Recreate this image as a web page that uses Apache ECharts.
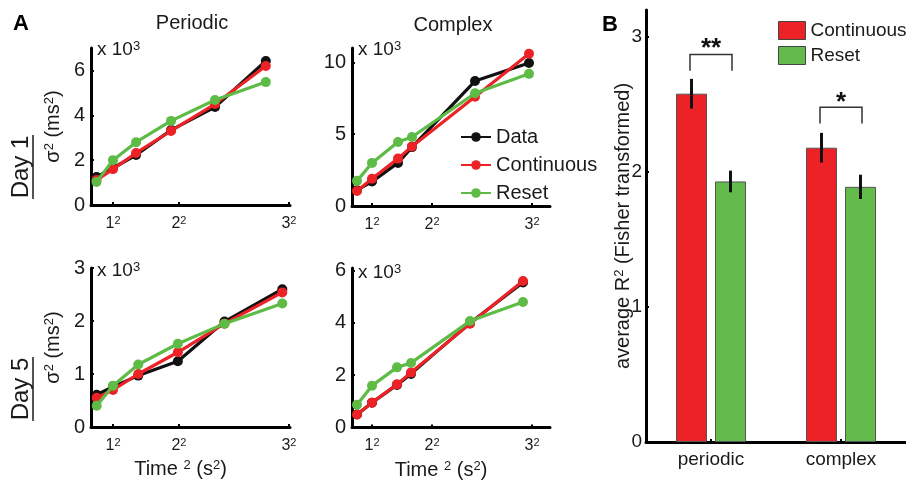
<!DOCTYPE html>
<html><head><meta charset="utf-8">
<script src="https://cdn.jsdelivr.net/npm/echarts@6/dist/echarts.min.js"></script>
<style>html,body{margin:0;padding:0;background:#fff}#c{width:906px;height:481px}</style>
</head><body><div id="c"></div>
<script>
const FONT = '"Liberation Sans", Arial, sans-serif';
const TXT = '#1a1a1a';

// ---- Panel A data (x = Time² in s², y = σ² in 10³ ms²) ----
const seriesNames = ['Data', 'Continuous', 'Reset'];
const lineColors = ['#111111', '#ec2227', '#5dbb46'];

const xPeriodicDay1 = [0.25, 1, 2.05, 3.64, 5.64, 7.95];
const periodicDay1Data = [1.25, 1.65, 2.23, 3.34, 4.37, 6.42];
const periodicDay1Cont = [1.11, 1.6, 2.32, 3.3, 4.5, 6.2];
const periodicDay1Reset = [1.03, 2.0, 2.8, 3.75, 4.68, 5.48];

const xComplexDay1 = [0.25, 1, 2.3, 3.0, 6.15, 8.85];
const complexDay1Data = [1.1, 1.7, 3.0, 4.1, 8.7, 9.95];
const complexDay1Cont = [1.05, 1.9, 3.3, 4.15, 7.6, 10.6];
const complexDay1Reset = [1.75, 3.0, 4.45, 4.8, 7.85, 9.2];

const xPeriodicDay5 = [0.26, 1, 2.15, 3.95, 6.07, 8.7];
const periodicDay5Data = [0.61, 0.76, 0.97, 1.24, 1.99, 2.6];
const periodicDay5Cont = [0.55, 0.7, 1.0, 1.41, 1.95, 2.54];
const periodicDay5Reset = [0.4, 0.78, 1.18, 1.57, 1.95, 2.33];

const xComplexDay5 = [0.25, 1, 2.25, 2.95, 5.9, 8.55];
const complexDay5Data = [0.5, 0.95, 1.63, 2.05, 4.0, 5.55];
const complexDay5Cont = [0.5, 0.95, 1.65, 2.1, 3.97, 5.6];
const complexDay5Reset = [0.87, 1.6, 2.3, 2.47, 4.07, 4.8];

const xTickValues = [1, 4, 9];
const xTickRoots = ['1', '2', '3'];
const yTicksPeriodicDay1 = [0, 2, 4, 6];
const yTicksComplexDay1 = [0, 5, 10];
const yTicksPeriodicDay5 = [0, 1, 2, 3];
const yTicksComplexDay5 = [0, 2, 4, 6];

// ---- Panel B data ----
const barCategories = ['periodic', 'complex'];
const barNames = ['Continuous', 'Reset'];
const barColors = ['#ec2227', '#62bb4a'];
const contMeans = [2.58, 2.18];
const contLow = [2.47, 2.07];
const contHigh = [2.69, 2.29];
const resetMeans = [1.93, 1.89];
const resetLow = [1.85, 1.80];
const resetHigh = [2.01, 1.98];
const bTicks = [0, 1, 2, 3];
const sigTop = [2.87, 2.48];
const sigLeg = [2.75, 2.36];
const sigStarY = [2.91, 2.51];
const sigStars = ['**', '*'];

const BAR_W = 31, BAR_GAP = 8;

const panels = [
  {x: xPeriodicDay1, ys: [periodicDay1Data, periodicDay1Cont, periodicDay1Reset], yTicks: yTicksPeriodicDay1, yMax: 7, xMax: 9.05,
   grid: {left: 91, top: 48, width: 199, height: 157}, yName: true, xName: false},
  {x: xComplexDay1, ys: [complexDay1Data, complexDay1Cont, complexDay1Reset], yTicks: yTicksComplexDay1, yMax: 11, xMax: 9.9,
   grid: {left: 352, top: 48, width: 198, height: 158}, yName: false, xName: false},
  {x: xPeriodicDay5, ys: [periodicDay5Data, periodicDay5Cont, periodicDay5Reset], yTicks: yTicksPeriodicDay5, yMax: 3, xMax: 9.05,
   grid: {left: 91, top: 268, width: 199, height: 159}, yName: true, xName: true},
  {x: xComplexDay5, ys: [complexDay5Data, complexDay5Cont, complexDay5Reset], yTicks: yTicksComplexDay5, yMax: 6.1, xMax: 9.9,
   grid: {left: 352, top: 268, width: 198, height: 160}, yName: false, xName: true}
];

const supRich = {
  b: {fontSize: 16, fontFamily: FONT, color: TXT},
  s: {fontSize: 11, fontFamily: FONT, color: TXT, verticalAlign: 'top', padding: [0, 0, 6, 0]}
};
const nameRich = {
  s: {fontSize: 13, fontFamily: FONT, color: TXT, verticalAlign: 'top', padding: [0, 0, 8, 0]}
};

const grids = [], xAxes = [], yAxes = [], series = [];
const axisLineStyle = {show: true, lineStyle: {color: '#000', width: 3}};

panels.forEach((p, i) => {
  grids.push(Object.assign({containLabel: false}, p.grid));
  xAxes.push({
    type: 'value', gridIndex: i, min: 0, max: p.xMax,
    axisLine: axisLineStyle, splitLine: {show: false},
    axisTick: {show: true, inside: true, length: 3, lineStyle: {color: '#000', width: 2}, customValues: xTickValues},
    axisLabel: {customValues: xTickValues, margin: 10, color: TXT, fontFamily: FONT, rich: supRich,
      formatter: v => '{b|' + xTickRoots[xTickValues.indexOf(v)] + '}{s|2}'},
    name: p.xName ? 'Time {s|2} (s{s|2})' : '', nameLocation: 'middle', nameGap: 32,
    nameTextStyle: {fontSize: 20, fontFamily: FONT, color: TXT, rich: nameRich, padding: [0, 20, 0, 0]}
  });
  yAxes.push({
    type: 'value', gridIndex: i, min: 0, max: p.yMax,
    axisLine: axisLineStyle, splitLine: {show: false},
    axisTick: {show: true, inside: true, length: 3, lineStyle: {color: '#000', width: 2}, customValues: p.yTicks},
    axisLabel: {customValues: p.yTicks, margin: 6, fontSize: 20, fontFamily: FONT, color: TXT},
    name: p.yName ? 'σ{s|2} (ms{s|2})' : '', nameLocation: 'middle', nameGap: 27, nameRotate: 90,
    nameTextStyle: {fontSize: 20, fontFamily: FONT, color: TXT, rich: nameRich}
  });
  p.ys.forEach((vals, k) => {
    series.push({
      type: 'line', name: seriesNames[k], xAxisIndex: i, yAxisIndex: i,
      data: vals.map((v, j) => [p.x[j], v]),
      symbol: 'circle', symbolSize: 10, z: 2 + k,
      lineStyle: {color: lineColors[k], width: 3.2},
      itemStyle: {color: lineColors[k]}
    });
  });
});

// Panel B
grids.push({left: 646, top: 10, width: 270, height: 432, containLabel: false});
xAxes.push({
  type: 'category', gridIndex: 4, data: barCategories,
  axisLine: axisLineStyle,
  axisTick: {show: true, inside: true, alignWithLabel: true, length: 3, lineStyle: {color: '#000', width: 2}},
  axisLabel: {fontSize: 19, fontFamily: FONT, color: TXT, margin: 8}
});
yAxes.push({
  type: 'value', gridIndex: 4, min: 0, max: 3.2,
  axisLine: axisLineStyle, splitLine: {show: false},
  axisTick: {show: true, inside: true, length: 3, lineStyle: {color: '#000', width: 2}, customValues: bTicks},
  axisLabel: {customValues: bTicks, margin: 4, fontSize: 19, fontFamily: FONT, color: TXT},
  name: 'average R{s|2} (Fisher transformed)', nameLocation: 'middle', nameGap: 12, nameRotate: 90,
  nameMoveOverlap: false,
  nameTextStyle: {fontSize: 20, fontFamily: FONT, color: TXT, rich: nameRich}
});
[contMeans, resetMeans].forEach((vals, k) => {
  series.push({
    type: 'bar', name: barNames[k], xAxisIndex: 4, yAxisIndex: 4, data: vals,
    barWidth: BAR_W, barGap: (BAR_GAP / BAR_W * 100) + '%',
    itemStyle: {color: barColors[k], borderColor: '#555', borderWidth: 1}, z: 2
  });
});
const errData = [];
barCategories.forEach((c, i) => {
  errData.push([i, contLow[i], contHigh[i], -1]);
  errData.push([i, resetLow[i], resetHigh[i], 1]);
});
series.push({
  type: 'custom', xAxisIndex: 4, yAxisIndex: 4, data: errData, z: 5, silent: true,
  renderItem: (params, api) => {
    const off = api.value(3) * (BAR_W + BAR_GAP) / 2;
    const a = api.coord([api.value(0), api.value(1)]);
    const b = api.coord([api.value(0), api.value(2)]);
    return {type: 'line', shape: {x1: a[0] + off, y1: a[1], x2: b[0] + off, y2: b[1]},
      style: {stroke: '#111', lineWidth: 3}};
  }
});
series.push({
  type: 'custom', xAxisIndex: 4, yAxisIndex: 4, z: 5, silent: true,
  data: barCategories.map((c, i) => [i, sigTop[i], sigLeg[i], sigStarY[i]]),
  renderItem: (params, api) => {
    const half = (BAR_W + BAR_GAP) / 2 + 1.5;
    const t = api.coord([api.value(0), api.value(1)]);
    const l = api.coord([api.value(0), api.value(2)]);
    const s = api.coord([api.value(0), api.value(3)]);
    return {type: 'group', children: [
      {type: 'polyline', shape: {points: [[t[0] - half, l[1]], [t[0] - half, t[1]], [t[0] + half, t[1]], [t[0] + half, l[1]]]},
        style: {stroke: '#333', lineWidth: 1.5, fill: null}},
      {type: 'text', x: s[0], y: s[1], style: {text: sigStars[params.dataIndex], fontSize: 26, fontWeight: 'bold',
        fontFamily: FONT, fill: '#111', align: 'center', verticalAlign: 'middle'}}
    ]};
  }
});

const sup3 = {s: {fontSize: 13, fontFamily: FONT, fill: TXT, verticalAlign: 'top', padding: [0, 0, 8, 0]}};
function txt(x, y, text, size, opts) {
  return Object.assign({type: 'text', x: x, y: y, silent: true,
    style: Object.assign({text: text, fontSize: size, fontFamily: FONT, fill: TXT, align: 'center', verticalAlign: 'middle'}, (opts && opts.style) || {})},
    (opts && opts.el) || {});
}
const graphics = [
  txt(21, 24, 'A', 22, {style: {fontWeight: 'bold', fill: '#000'}}),
  txt(610, 25, 'B', 22, {style: {fontWeight: 'bold', fill: '#000'}}),
  txt(192, 23, 'Periodic', 20),
  txt(453, 25, 'Complex', 20),
  txt(97, 50, 'x 10{s|3}', 19, {style: {align: 'left', rich: sup3}}),
  txt(358, 50, 'x 10{s|3}', 19, {style: {align: 'left', rich: sup3}}),
  txt(97, 271, 'x 10{s|3}', 19, {style: {align: 'left', rich: sup3}}),
  txt(358, 273, 'x 10{s|3}', 19, {style: {align: 'left', rich: sup3}}),
  txt(21, 167, 'Day 1', 24, {el: {rotation: Math.PI / 2}}),
  txt(21, 389, 'Day 5', 24, {el: {rotation: Math.PI / 2}}),
  {type: 'line', silent: true, shape: {x1: 33, y1: 135, x2: 33, y2: 199}, style: {stroke: TXT, lineWidth: 1.5}},
  {type: 'line', silent: true, shape: {x1: 33, y1: 357, x2: 33, y2: 421}, style: {stroke: TXT, lineWidth: 1.5}}
];

const chart = echarts.init(document.getElementById('c'), null, {renderer: 'canvas'});
chart.setOption({
  animation: false,
  backgroundColor: '#ffffff',
  textStyle: {fontFamily: FONT},
  grid: grids, xAxis: xAxes, yAxis: yAxes, series: series,
  legend: [
    {data: seriesNames, orient: 'vertical', left: 455, top: 122, itemGap: 8, itemWidth: 30, itemHeight: 12,
     selectedMode: false, textStyle: {fontSize: 20, fontFamily: FONT, color: TXT}},
    {data: barNames.map((n, k) => ({name: n, icon: 'rect', itemStyle: {color: barColors[k], borderColor: '#444', borderWidth: 1}})),
     orient: 'vertical', left: 773, top: 16, itemGap: 6, itemWidth: 27, itemHeight: 18,
     selectedMode: false, textStyle: {fontSize: 19, fontFamily: FONT, color: TXT}}
  ],
  graphic: graphics
});
</script></body></html>
